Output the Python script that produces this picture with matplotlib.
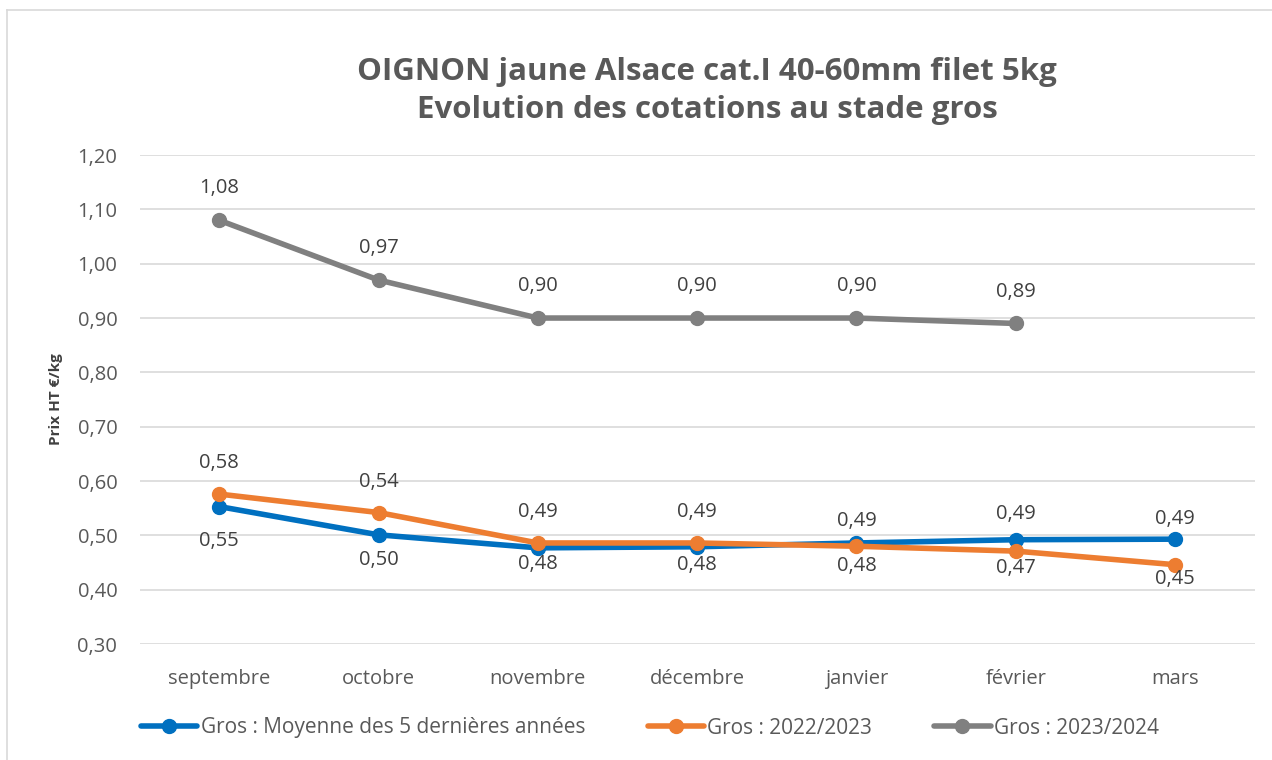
import matplotlib.pyplot as plt
from matplotlib.lines import Line2D

# Daten
mois = ['septembre', 'octobre', 'novembre', 'décembre', 'janvier', 'février', 'mars']
moyenne_5ans = [0.553, 0.501, 0.477, 0.479, 0.486, 0.492, 0.493]
gros_2022_2023 = [0.576, 0.542, 0.486, 0.486, 0.480, 0.471, 0.446]
gros_2023_2024 = [1.08, 0.97, 0.90, 0.90, 0.90, 0.89]

# Versatz der Beschriftungen in Pixel (+ = oben, - = unten)
pos_moyenne = [-34, -25, -16, -18, 22, 26, 20]
pos_2022 = [31, 31, 31, 31, -20, -17, -14]
pos_2024 = [32, 32, 32, 32, 32, 31]

plt.rcParams['font.family'] = ['Open Sans', 'DejaVu Sans']
txt = '#595959'

fig = plt.figure(figsize=(12.72, 7.6), dpi=100)
ax = fig.add_axes([0.1097, 0.1526, 0.8767, 0.6434])

# Rahmen
fig.add_artist(Line2D([7/1272, 7/1272], [0, 1 - 10/760], color='#d9d9d9', lw=1.2, transform=fig.transFigure))
fig.add_artist(Line2D([7/1272, 1], [1 - 10/760, 1 - 10/760], color='#d9d9d9', lw=1.2, transform=fig.transFigure))

x = list(range(len(mois)))
series = [
    (moyenne_5ans, '#0070c0', 'Gros : Moyenne des 5 dernières années', pos_moyenne),
    (gros_2022_2023, '#ed7d31', 'Gros : 2022/2023', pos_2022),
    (gros_2023_2024, '#808080', 'Gros : 2023/2024', pos_2024),
]
for werte, farbe, name, pos in series:
    xs = x[:len(werte)]
    ax.plot(xs, werte, color=farbe, lw=4, marker='o', markersize=10, label=name,
            solid_capstyle='round')
    for xi, yi, p in zip(xs, werte, pos):
        ax.annotate(f"{yi:.2f}".replace('.', ','), (xi, yi), xytext=(0, p),
                    textcoords='offset pixels', ha='center', va='center',
                    fontsize=14.5, color='#404040')

ax.set_xlim(-0.5, 6.5)
ax.set_ylim(0.3, 1.2)
ax.set_yticks([0.3 + 0.1 * i for i in range(10)])
ax.set_yticklabels([f"{0.3 + 0.1 * i:.2f}".replace('.', ',') for i in range(10)])
ax.set_xticks(x)
ax.set_xticklabels(mois)
ax.tick_params(length=0, labelsize=14.5, colors=txt)
ax.tick_params(axis='x', pad=18)
ax.tick_params(axis='y', pad=16)
ax.grid(axis='y', color='#d9d9d9', lw=1.2)
ax.set_axisbelow(True)
for s in ax.spines.values():
    s.set_visible(False)

ax.set_ylabel('Prix HT €/kg', fontsize=11, fontweight='bold', color='#404040', labelpad=10)

fig.text(0.556, 0.880, 'OIGNON jaune Alsace cat.I 40-60mm filet 5kg\nEvolution des cotations au stade gros',
         ha='center', va='center', fontsize=22.5, fontweight='bold', color=txt, linespacing=1.35)

fig.legend(loc='center', bbox_to_anchor=(0.511, 1 - 728/760), ncol=3, frameon=False,
           fontsize=15, labelcolor=txt, handlelength=2.7, handletextpad=0.15, columnspacing=3.0)

plt.savefig('out.png')
